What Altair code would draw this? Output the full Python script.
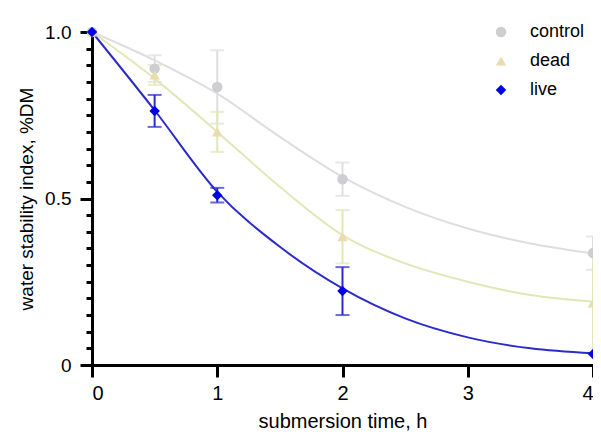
import altair as alt
import pandas as pd

# ---- data ----
series = ["control", "dead", "live"]
times = [0, 0.5, 1, 2, 4]
control_mean = [1.0, 0.89, 0.835, 0.558, 0.336]
control_err = [0.0, 0.04, 0.11, 0.05, 0.05]
dead_mean = [1.0, 0.871, 0.70, 0.385, 0.186]
dead_err = [0.0, 0.03, 0.06, 0.08, 0.15]
live_mean = [1.0, 0.763, 0.51, 0.222, 0.033]
live_err = [0.0, 0.048, 0.022, 0.072, 0.0]

# fitted curves
curve_t = [0, 0.5, 1, 1.5, 2, 2.5, 3, 3.5, 4]
control_curve = [1.0, 0.915, 0.815, 0.685, 0.565, 0.475, 0.41, 0.365, 0.335]
dead_curve = [1.0, 0.86, 0.70, 0.535, 0.39, 0.305, 0.25, 0.21, 0.19]
live_curve = [1.0, 0.765, 0.52, 0.355, 0.23, 0.14, 0.083, 0.05, 0.035]

x_ticks = [0, 1, 2, 3, 4]
y_ticks = [0, 0.05, 0.1, 0.15, 0.2, 0.25, 0.3, 0.35, 0.4, 0.45, 0.5,
           0.55, 0.6, 0.65, 0.7, 0.75, 0.8, 0.85, 0.9, 0.95, 1.0]

marker_colors = ["#cdcdd2", "#e9dcae", "#0000e8"]
line_colors = ["#dedede", "#e1e7b6", "#2b2bcc"]
shapes = ["circle", "triangle-up", "diamond"]

rows = []
for name, m, e in [("control", control_mean, control_err),
                   ("dead", dead_mean, dead_err),
                   ("live", live_mean, live_err)]:
    for t, v, er in zip(times, m, e):
        rows.append({"series": name, "t": t, "v": v, "lo": v - er, "hi": v + er, "has_err": er > 0})
pts = pd.DataFrame(rows)

crow = []
for name, c in [("control", control_curve), ("dead", dead_curve), ("live", live_curve)]:
    for t, v in zip(curve_t, c):
        crow.append({"series": name, "t": t, "v": v})
curves = pd.DataFrame(crow)

font = "Liberation Sans"

x_axis = alt.Axis(values=x_ticks, format="d", title="submersion time, h", grid=False,
                  domainColor="black", domainWidth=3, tickColor="black",
                  tickWidth=3, tickSize=12, labelFontSize=20, labelFont=font,
                  labelColor="black", labelPadding=6, titleFont=font,
                  titleFontSize=20, titleFontWeight="normal", titleColor="black",
                  titlePadding=8)
y_axis = alt.Axis(values=y_ticks, title="water stability index, %DM", grid=False,
                  domainColor="black", domainWidth=3, tickColor="black", tickWidth=3,
                  tickSize={"condition": {"test": "abs(datum.value*2 - round(datum.value*2)) < 0.001", "value": 12}, "value": 6},
                  labelExpr="abs(datum.value-1) < 0.001 ? '1.0' : abs(datum.value-0.5) < 0.001 ? '0.5' : abs(datum.value) < 0.001 ? '0' : ''",
                  labelFontSize=19, labelFont=font, labelColor="black", labelPadding=9,
                  titleFont=font, titleFontSize=19, titleFontWeight="normal",
                  titleColor="black", titlePadding=8)
xs = alt.Scale(domain=[0, 4], nice=False)
ys = alt.Scale(domain=[0, 1], nice=False)


def X(field):
    return alt.X(field, scale=xs, axis=x_axis)


def Y(field):
    return alt.Y(field, scale=ys, axis=y_axis)


layers = []
for name, lc in zip(series, line_colors):
    cur = alt.Chart(curves).transform_filter(alt.datum.series == name)
    layers.append(cur.mark_line(strokeWidth=2, interpolate="monotone", clip=False, color=lc).encode(
        x=X("t:Q"), y=Y("v:Q"), order=alt.Order("t:Q")))
    err = alt.Chart(pts).transform_filter((alt.datum.series == name) & alt.datum.has_err)
    layers.append(err.mark_rule(strokeWidth=2, color=lc).encode(
        x=X("t:Q"), y=Y("lo:Q"), y2="hi:Q"))
    layers.append(err.mark_tick(orient="horizontal", size=14, thickness=2, color=lc).encode(
        x=X("t:Q"), y=Y("lo:Q")))
    layers.append(err.mark_tick(orient="horizontal", size=14, thickness=2, color=lc).encode(
        x=X("t:Q"), y=Y("hi:Q")))

leg = alt.Legend(title=None, orient="none", legendX=400, legendY=-9,
                 labelFont=font, labelFontSize=18, labelColor="black",
                 symbolSize=110, rowPadding=11, labelOffset=20,
                 symbolStrokeWidth=0)

points = alt.Chart(pts).mark_point(filled=True, size=110, opacity=1, clip=False).encode(
    x=X("t:Q"), y=Y("v:Q"),
    color=alt.Color("series:N", scale=alt.Scale(domain=series, range=marker_colors), legend=leg),
    shape=alt.Shape("series:N", scale=alt.Scale(domain=series, range=shapes), legend=leg),
)
layers.append(points)

chart = alt.layer(*layers).properties(
    width=501, height=333,
    background="white",
    autosize=alt.AutoSizeParams(type="none"),
    padding={"left": 84, "top": 24, "right": 0, "bottom": 70},
).configure_view(stroke=None)

chart.save("out.html", embed_options={"renderer": "svg", "actions": False})
